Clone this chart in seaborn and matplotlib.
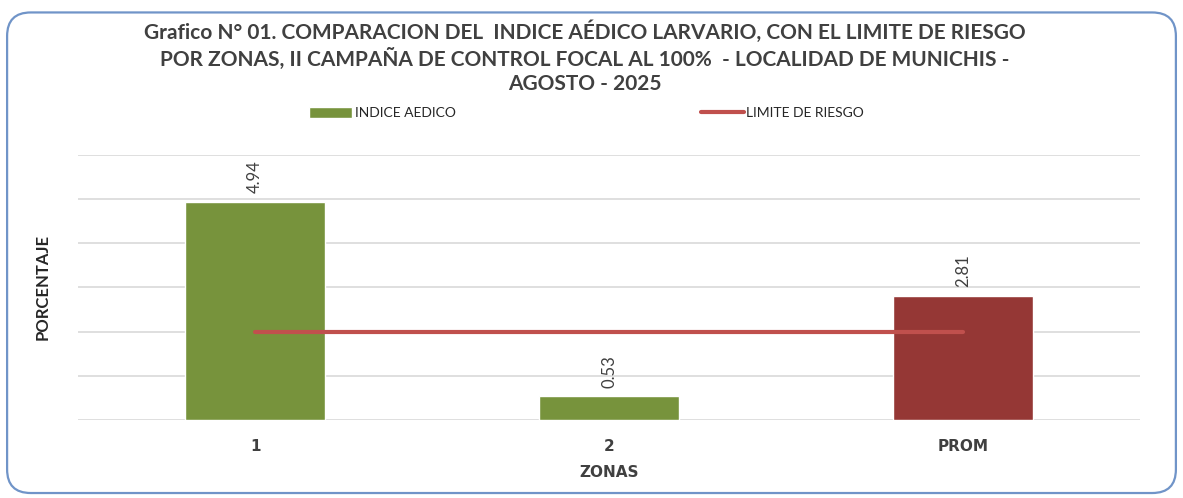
import numpy as np
import pandas as pd
import matplotlib
matplotlib.use("Agg")
import matplotlib.pyplot as plt
from matplotlib.patches import FancyBboxPatch, Patch
from matplotlib.lines import Line2D
import seaborn as sns

# Datos del grafico
zonas = ["1", "2", "PROM"]
indice_aedico = [4.94, 0.53, 2.81]
limite_riesgo = [2, 2, 2]
colores_barras = ["#77933C", "#77933C", "#953735"]

titulo = ("Grafico N° 01. COMPARACION DEL  INDICE AÉDICO LARVARIO, CON EL LIMITE DE RIESGO\n"
          "POR ZONAS, II CAMPAÑA DE CONTROL FOCAL AL 100%  - LOCALIDAD DE MUNICHIS -\n"
          "AGOSTO - 2025")

sns.set_theme(style="white")
plt.rcParams['font.family'] = ['Lato', 'DejaVu Sans']

df = pd.DataFrame({"zona": zonas, "valor": indice_aedico})

fig = plt.figure(figsize=(11.83, 4.98), dpi=100)

# Marco redondeado
marco = FancyBboxPatch((0.006, 0.01), 0.988, 0.965,
                       boxstyle="round,pad=0,rounding_size=0.02",
                       transform=fig.transFigure, facecolor="none",
                       edgecolor="#7094C8", linewidth=1.6, zorder=-1,
                       mutation_aspect=1183 / 498)
fig.patches.append(marco)

ax = fig.add_axes([0.066, 0.157, 0.898, 0.532])
ax.patch.set_alpha(0)
sns.barplot(data=df, x="zona", y="valor", hue="zona", palette=colores_barras,
            legend=False, width=0.395, saturation=1, ax=ax, zorder=3)
ax.plot(np.arange(len(zonas)), limite_riesgo, color="#C0504D", linewidth=3, zorder=4)

ax.set_xlim(-0.5, len(zonas) - 0.5)
ax.set_ylim(0, 6)
ax.set_yticks(np.arange(0, 7, 1))
ax.set_yticklabels([])
ax.tick_params(axis="y", length=0)
ax.tick_params(axis="x", length=0, pad=14)
ax.yaxis.grid(True, color="#D9D9D9", linewidth=1.2, zorder=0)
ax.set_axisbelow(True)
for s in ax.spines.values():
    s.set_visible(False)

for lbl in ax.get_xticklabels():
    lbl.set_fontfamily("DejaVu Sans")
    lbl.set_fontweight("bold")
    lbl.set_fontsize(11)
    lbl.set_color("#404040")

# Etiquetas de valores
for i, v in enumerate(indice_aedico):
    ax.annotate(f"{v:.2f}", (i, v), xytext=(0, 6), textcoords="offset points",
                rotation=90, ha="center", va="bottom", fontsize=12, color="#404040")

ax.set_xlabel("ZONAS", fontsize=11, fontweight="bold", color="#404040",
              family="DejaVu Sans", labelpad=8)
ax.set_ylabel("PORCENTAJE", fontsize=12, fontweight="bold", color="#262626", labelpad=16)

fig.text(0.494, 0.958, titulo, ha="center", va="top", fontsize=15,
         fontweight="bold", color="#404040", linespacing=1.25)

# Leyenda
handles = [Patch(facecolor="#77933C", label="INDICE AEDICO"),
           Line2D([0], [0], color="#C0504D", linewidth=3, label="LIMITE DE RIESGO")]
fig.legend(handles=handles, loc="center", bbox_to_anchor=(0.496, 0.773), ncol=2,
           frameon=False, fontsize=10, columnspacing=17.6, handlelength=3.1,
           handletextpad=0.2, handleheight=0.8)

fig.savefig("out.png", dpi=100)
